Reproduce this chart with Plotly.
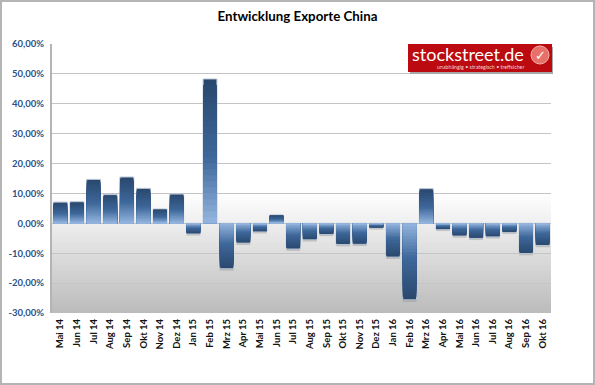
import plotly.graph_objects as go

categories = ["Mai 14","Jun 14","Jul 14","Aug 14","Sep 14","Okt 14","Nov 14","Dez 14","Jan 15","Feb 15",
              "Mrz 15","Apr 15","Mai 15","Jun 15","Jul 15","Aug 15","Sep 15","Okt 15","Nov 15","Dez 15",
              "Jan 16","Feb 16","Mrz 16","Apr 16","Mai 16","Jun 16","Jul 16","Aug 16","Sep 16","Okt 16"]
values = [7.1,7.2,14.7,9.6,15.5,11.7,4.8,9.8,-3.5,48.3,
          -15.2,-6.6,-2.8,2.8,-8.6,-5.5,-3.7,-7.1,-7.0,-1.5,
          -11.3,-25.6,11.6,-2.0,-4.2,-5.0,-4.5,-3.0,-10.1,-7.4]
tick_vals = [60,50,40,30,20,10,0,-10,-20,-30]
tick_text = ["60,00%","50,00%","40,00%","30,00%","20,00%","10,00%","0,00%","-10,00%","-20,00%","-30,00%"]

W, H = 595, 385
L, R, T, B = 52, 44, 44, 72
PW, PH = W - L - R, H - T - B

def lerp(a, b, t):
    return tuple(round(a[i] + (b[i] - a[i]) * t) for i in range(3))

def bar_color(t):
    # t=0 at the bar tip, t=1 at the baseline
    dark, mid, light = (42, 72, 110), (62, 104, 155), (145, 178, 220)
    if t < 0.55:
        return lerp(dark, mid, t / 0.55)
    return lerp(mid, light, (t - 0.55) / 0.45)

fig = go.Figure()

# soft shadow just below the negative bars' tips
fig.add_bar(x=categories, y=[v - 0.6 if v < 0 else v for v in values],
            marker=dict(color="rgba(110,110,110,0.3)", line=dict(width=0)),
            hoverinfo="skip", showlegend=False)

# gradient bars: overlaid, each layer shorter and lighter than the last
N = 24
for k in range(N):
    frac = 1 - k / N
    c = bar_color(k / (N - 1))
    fig.add_bar(x=categories, y=[v * frac for v in values],
                marker=dict(color=f"rgb{c}",
                            line=dict(width=1, color="#b9c6d6") if k == 0 else dict(width=0)),
                hoverinfo="skip", showlegend=False)

shapes = []
# plot-area background gradient: nested rectangles so no seams appear
steps = 40
for i in range(steps):
    y0 = 10 - 40 * i / steps
    t = (i + 0.5) / steps
    g = round(255 - (255 - 187) * t)
    shapes.append(dict(type="rect", xref="x domain", yref="y", x0=0, x1=1, y0=y0, y1=-30,
                       fillcolor=f"rgb({g},{g},{g})", line=dict(width=0), layer="below"))

def px(x):
    return (x - L) / PW
def py(y):
    return 1 - (y - T) / PH

# outer frame
shapes.append(dict(type="rect", xref="paper", yref="paper", x0=px(1), x1=px(594), y0=py(1), y1=py(384),
                   fillcolor="rgba(0,0,0,0)", line=dict(color="#b4b4b4", width=2), layer="below"))
# logo
shapes.append(dict(type="rect", xref="paper", yref="paper", x0=px(410), x1=px(553), y0=py(47), y1=py(74),
                   fillcolor="#a8a8a8", line=dict(width=0), layer="above"))
shapes.append(dict(type="rect", xref="paper", yref="paper", x0=px(408), x1=px(552), y0=py(44), y1=py(72),
                   fillcolor="#bb0a10", line=dict(width=0), layer="above"))
shapes.append(dict(type="circle", xref="paper", yref="paper", x0=px(531), x1=px(549), y0=py(46), y1=py(64),
                   fillcolor="#e8706a", line=dict(color="#f0b0a8", width=1), layer="above"))

fig.update_layout(
    width=W, height=H, margin=dict(l=L, r=R, t=T, b=B, autoexpand=False),
    paper_bgcolor="white", plot_bgcolor="white",
    barmode="overlay", bargap=0.17, showlegend=False,
    font=dict(family="Lato", size=10),
    title=dict(text="<b>Entwicklung Exporte China</b>", x=297.5 / W, xanchor="center",
               y=1 - 16 / H, yanchor="middle",
               font=dict(family="Lato", size=13.3, color="#000000")),
    shapes=shapes,
    xaxis=dict(type="category", tickangle=-90, showgrid=False, zeroline=False, ticks="",
               side="bottom", anchor="free", position=0, ticklabelstandoff=3,
               tickfont=dict(family="Lato", size=9.5, color="#111111", weight="bold"),
               showline=False, range=[-0.5, 29.5]),
    yaxis=dict(range=[-30, 60], tickmode="array", tickvals=tick_vals, ticktext=tick_text,
               showgrid=True, gridcolor="#c4c4c4", gridwidth=1.3, zeroline=False,
               showline=True, linecolor="#b4b4b4", linewidth=2, ticks="", ticklabelstandoff=4,
               tickfont=dict(family="Lato", size=9.5, color="#2a5288", weight="bold")),
    annotations=[
        dict(text="stockstreet.de", xref="paper", yref="paper", x=px(410), y=py(54.5),
             xanchor="left", yanchor="middle", showarrow=False,
             font=dict(family="Lato", size=18, color="white")),
        dict(text="unabhängig • strategisch • treffsicher", xref="paper", yref="paper", x=px(525.5), y=py(67),
             xanchor="right", yanchor="middle", showarrow=False,
             font=dict(family="Lato", size=5.3, color="#f4d0d0")),
        dict(text="✓", xref="paper", yref="paper", x=px(540), y=py(55),
             xanchor="center", yanchor="middle", showarrow=False,
             font=dict(family="DejaVu Sans", size=13, color="white", weight="bold")),
    ],
)

fig.write_html("out.html", post_script="document.body.style.margin='0';",
               config={"displayModeBar": False})
